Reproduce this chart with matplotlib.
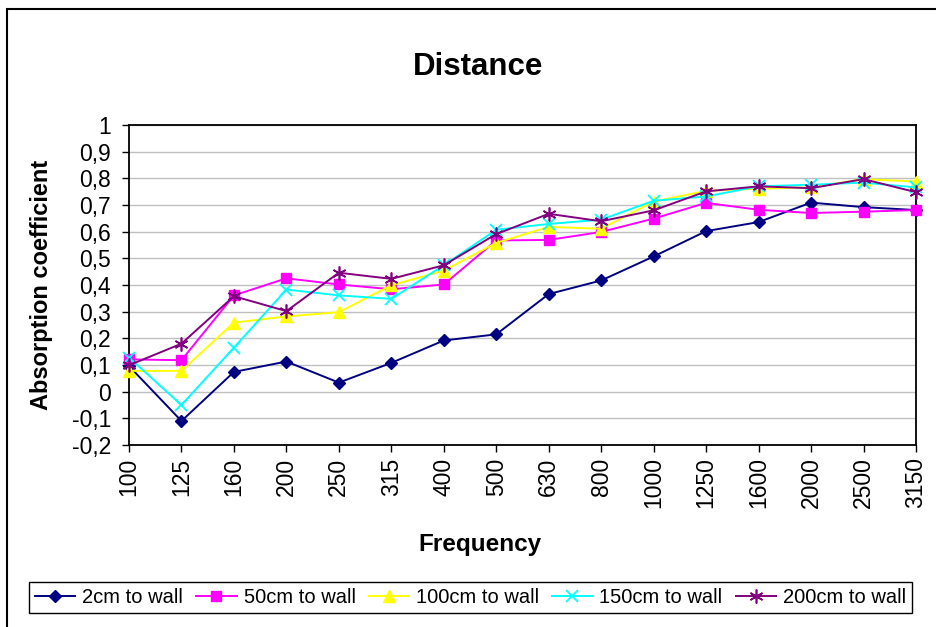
import matplotlib
matplotlib.use("Agg")
import matplotlib.pyplot as plt
from matplotlib.patches import Rectangle

plt.rcParams['font.family'] = ['Liberation Sans', 'DejaVu Sans']

frequencies = ["100", "125", "160", "200", "250", "315", "400", "500", "630", "800",
               "1000", "1250", "1600", "2000", "2500", "3150"]

cm2 = [0.096, -0.110, 0.074, 0.113, 0.034, 0.108, 0.192, 0.215, 0.366, 0.417,
       0.507, 0.602, 0.636, 0.709, 0.692, 0.681]
cm50 = [0.121, 0.118, 0.361, 0.425, 0.402, 0.384, 0.402, 0.567, 0.569, 0.599,
        0.649, 0.708, 0.682, 0.670, 0.675, 0.681]
cm100 = [0.078, 0.078, 0.259, 0.282, 0.298, 0.399, 0.454, 0.558, 0.618, 0.611,
         0.713, 0.753, 0.761, 0.766, 0.797, 0.788]
cm150 = [0.128, -0.050, 0.165, 0.383, 0.361, 0.348, 0.474, 0.607, 0.629, 0.645,
         0.716, 0.732, 0.770, 0.776, 0.784, 0.766]
cm200 = [0.099, 0.180, 0.358, 0.302, 0.446, 0.423, 0.474, 0.591, 0.667, 0.639,
         0.680, 0.751, 0.770, 0.763, 0.797, 0.748]

series_labels = ["2cm to wall", "50cm to wall", "100cm to wall", "150cm to wall", "200cm to wall"]
y_ticks = [-0.2, -0.1, 0, 0.1, 0.2, 0.3, 0.4, 0.5, 0.6, 0.7, 0.8, 0.9, 1.0]
y_tick_labels = ["-0,2", "-0,1", "0", "0,1", "0,2", "0,3", "0,4", "0,5", "0,6", "0,7", "0,8", "0,9", "1"]

W, H = 936, 627
fig = plt.figure(figsize=(W / 100, H / 100), dpi=100)
fig.patch.set_facecolor("white")

L, R, T, B = 129, 916, 125, 445
ax = fig.add_axes([L / W, 1 - B / H, (R - L) / W, (B - T) / H])

x = list(range(len(frequencies)))
styles = [
    dict(color="#000080", marker="D", ms=6.5),
    dict(color="#FF00FF", marker="s", ms=7),
    dict(color="#FFFF00", marker="^", ms=8),
    dict(color="#00FFFF", marker="x", ms=8, mew=1.3),
    dict(color="#800080", marker=(6, 2, 0), ms=10, mew=1.2),
]
for vals, lab, st in zip([cm2, cm50, cm100, cm150, cm200], series_labels, styles):
    ax.plot(x, vals, label=lab, lw=1.4, **st, clip_on=False, zorder=3)

ax.set_xlim(0, len(frequencies) - 1)
ax.set_ylim(-0.2, 1.0)
ax.set_yticks(y_ticks)
ax.set_yticklabels(y_tick_labels, fontsize=16.5)
ax.set_xticks(x)
ax.set_xticklabels(frequencies, rotation=90, fontsize=16.5)
ax.tick_params(axis="both", direction="out", length=5, width=1, color="black")
ax.tick_params(axis="x", pad=4)
ax.tick_params(axis="y", pad=8)
ax.grid(axis="y", color="#c0c0c0", lw=1)
ax.set_axisbelow(True)
for s in ax.spines.values():
    s.set_color("black")
    s.set_linewidth(1.3)

fig.text(478 / W, 1 - 67 / H, "Distance", fontsize=22.5, fontweight="bold",
         ha="center", va="center")
fig.text(480 / W, 1 - 545 / H, "Frequency", fontsize=17.5, fontweight="bold",
         ha="center", va="center")
fig.text(42 / W, 1 - 285 / H, "Absorption coefficient", fontsize=17, fontweight="bold",
         ha="center", va="center", rotation=90)

fig.legend(loc="lower left", ncol=5, mode="expand",
           bbox_to_anchor=(29 / W, 1 - 613 / H, (912 - 29) / W, 36 / H),
           fontsize=14.5, frameon=True, fancybox=False, edgecolor="black",
           framealpha=1, handlelength=2.0, handletextpad=0.35, columnspacing=0.6,
           borderaxespad=0.0, borderpad=0.3)

fig.patches.append(Rectangle((7 / W, -0.1), 1.2, 1 - 9 / H + 0.1, transform=fig.transFigure,
                             fill=False, lw=1.5, edgecolor="black"))

fig.savefig("out.png", dpi=100)
